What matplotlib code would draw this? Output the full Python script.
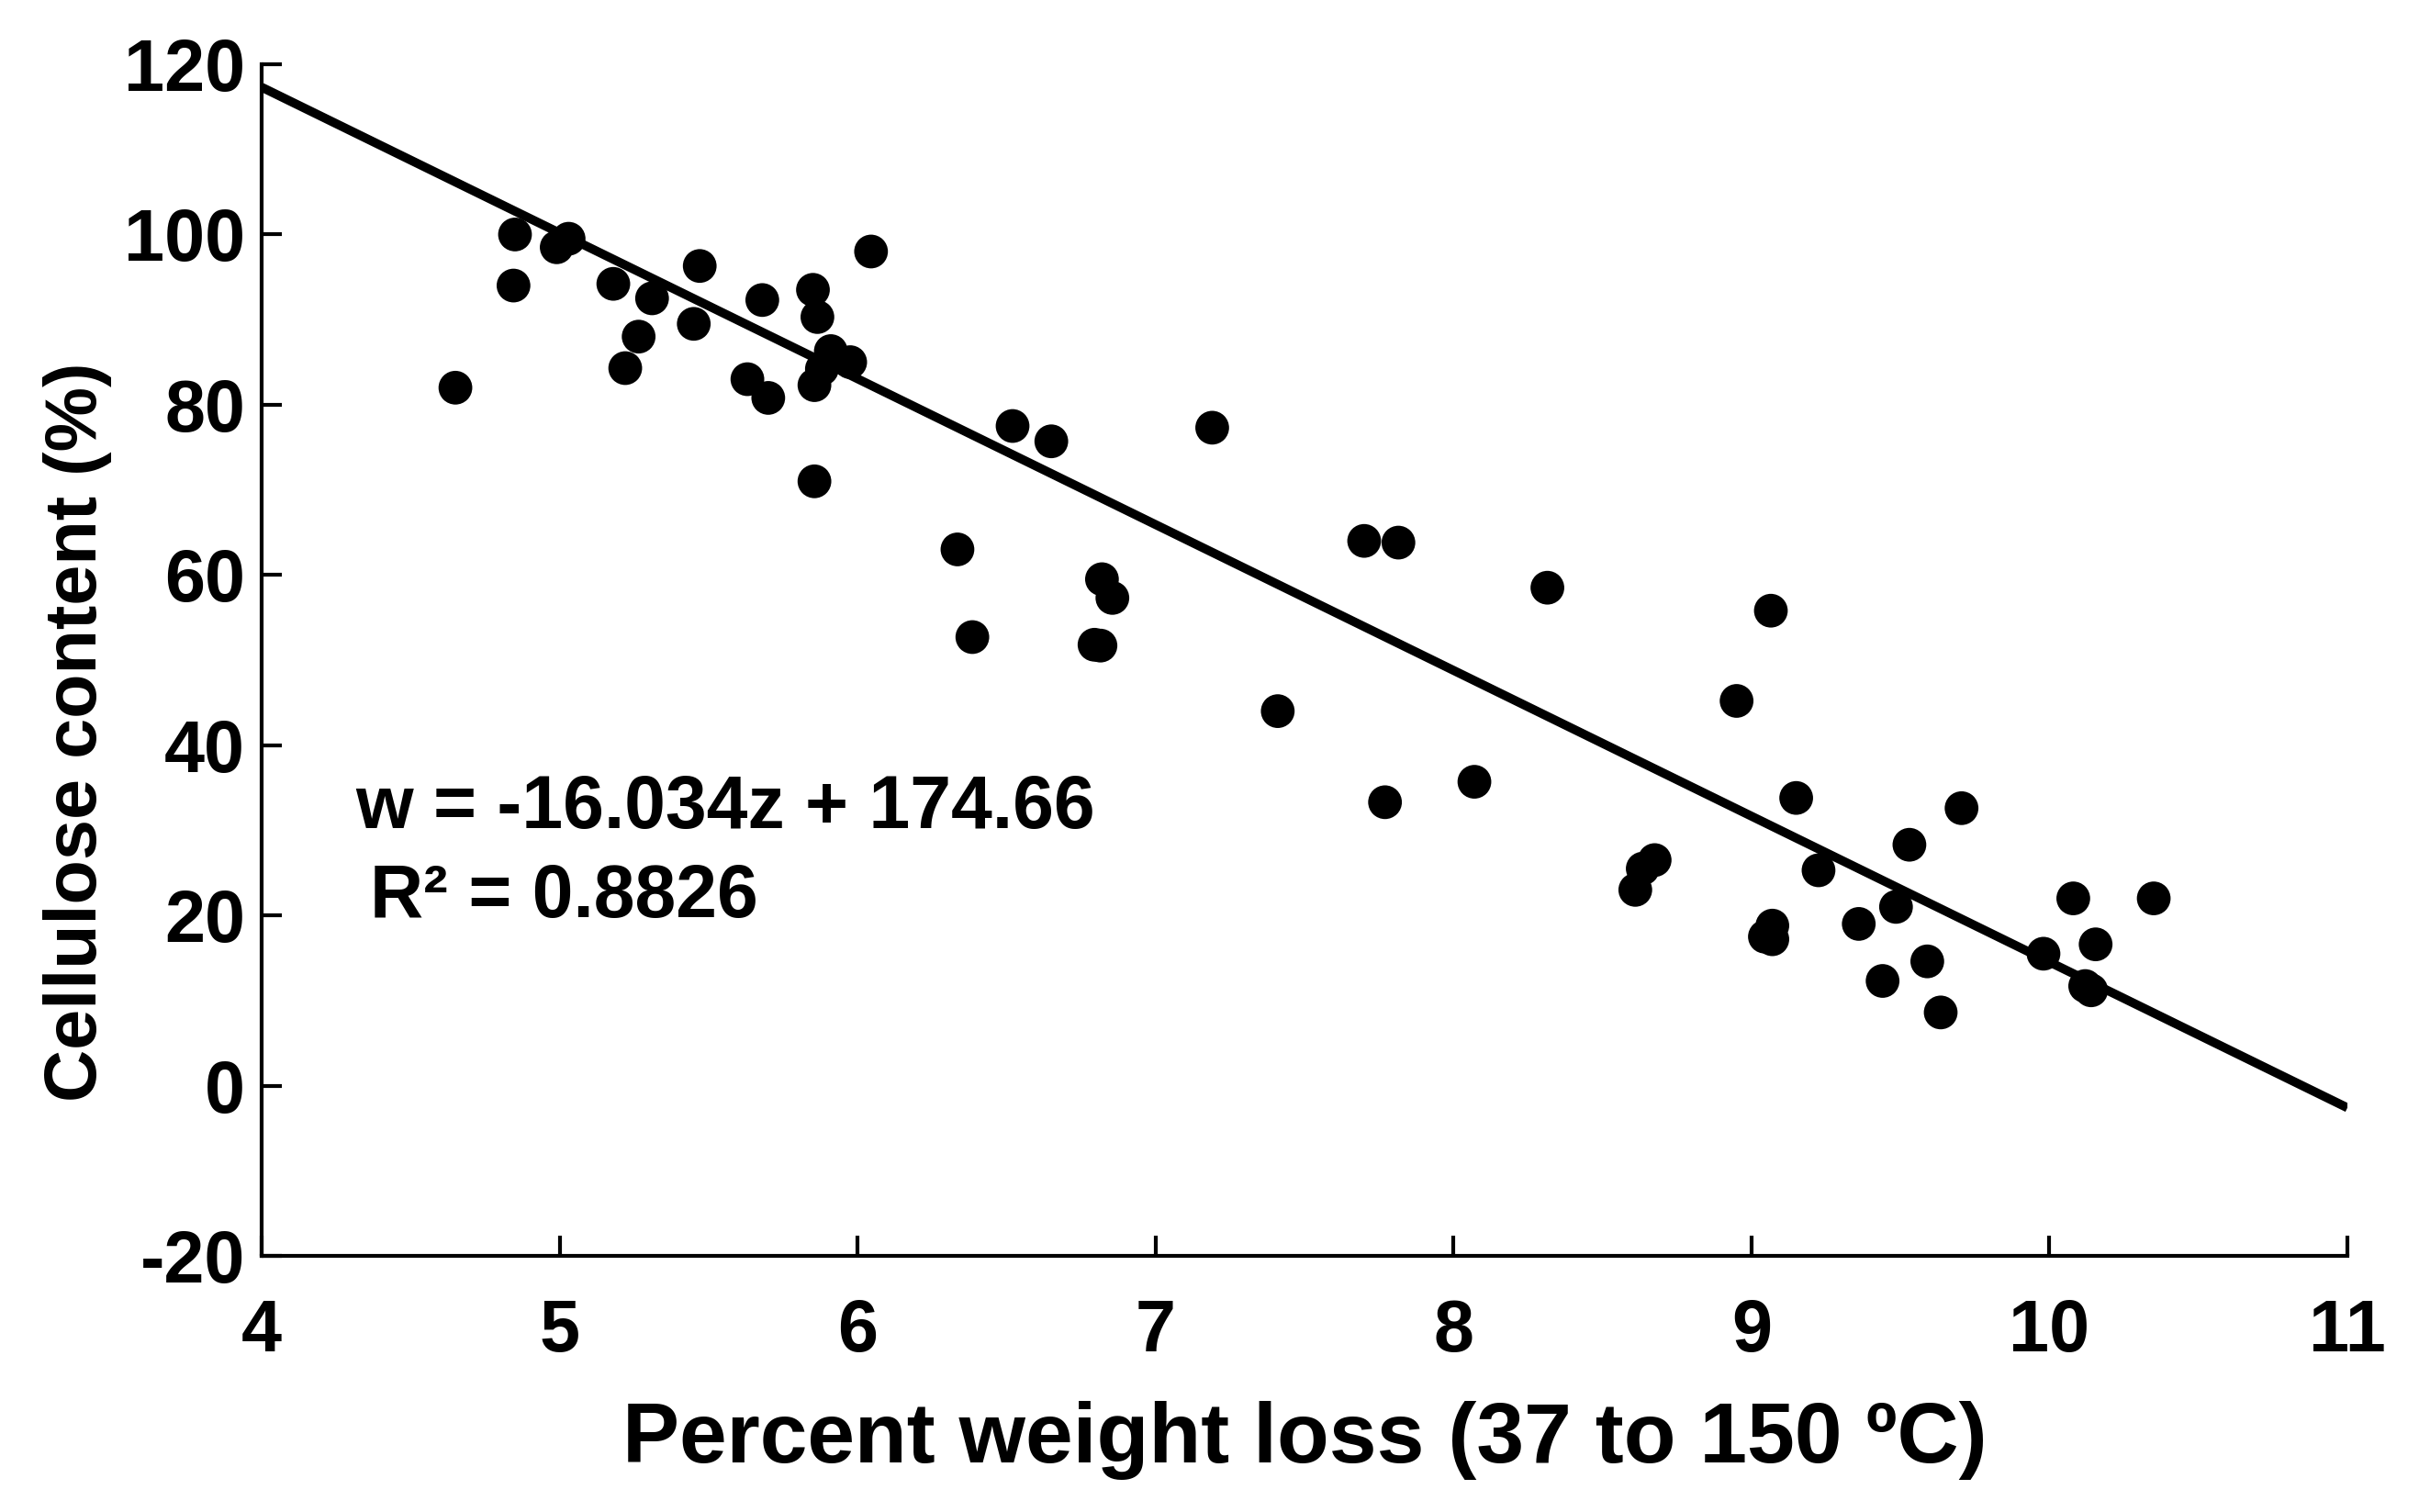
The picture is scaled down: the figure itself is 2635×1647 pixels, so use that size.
import matplotlib
matplotlib.use('Agg')
import matplotlib.pyplot as plt
import numpy as np

# weight loss (%) between 37 and 150 C
weight_loss = [4.65, 4.85, 4.845, 4.99, 5.03, 5.18, 5.22, 5.265, 5.31, 5.45,
               5.47, 5.63, 5.68, 5.70, 5.85, 5.865, 5.855, 5.88, 5.91, 5.975,
               5.855, 6.045, 6.335, 6.385, 6.52, 6.65, 6.82, 6.855, 6.795, 6.815,
               7.19, 7.41, 7.70, 7.815, 7.77, 8.07, 8.315, 8.61, 8.635, 8.675,
               8.95, 9.065, 9.045, 9.07, 9.07, 9.15, 9.225, 9.36, 9.44, 9.485,
               9.53, 9.59, 9.635, 9.705, 9.98, 10.08, 10.12, 10.14, 10.155, 10.35]
# cellulose content (%)
cellulose = [82.0, 100.0, 94.0, 98.5, 99.5, 94.2, 84.3, 88.0, 92.5, 89.5,
             96.3, 83.0, 92.3, 80.8, 93.5, 90.3, 82.3, 84.2, 86.3, 85.0,
             71.0, 98.0, 63.0, 52.7, 77.5, 75.7, 59.5, 57.3, 51.8, 51.7,
             77.3, 44.0, 64.0, 63.8, 33.3, 35.7, 58.5, 23.0, 25.5, 26.5,
             45.2, 55.8, 17.5, 18.8, 17.2, 33.8, 25.3, 19.0, 12.3, 21.0,
             28.3, 14.6, 8.6, 32.6, 15.5, 22.0, 11.7, 11.2, 16.6, 22.0]

# trend line as drawn in the figure
trend_x = [4.0, 11.0]
trend_y = [117.3, -2.6]

eq_text = 'w = -16.034z + 174.66'
r2_text = 'R\u00b2 = 0.8826'

plt.rcParams['font.family'] = ['Liberation Sans', 'DejaVu Sans']
plt.rcParams['font.weight'] = 'bold'
plt.rcParams['axes.unicode_minus'] = False

fig = plt.figure(figsize=(26.35, 16.47), dpi=100)
ax = fig.add_axes([0.1082, 0.1694, 0.8622, 0.7881])

ax.scatter(weight_loss, cellulose, s=700, color='black', edgecolors='none', zorder=3)
ax.plot(trend_x, trend_y, color='black', lw=7, zorder=2, solid_capstyle='butt')

ax.set_xlim(4, 11)
ax.set_ylim(-20, 120)
ax.set_xticks(np.arange(4, 12, 1))
ax.set_yticks(np.arange(-20, 121, 20))

for side in ['top', 'right']:
    ax.spines[side].set_visible(False)
for side in ['left', 'bottom']:
    ax.spines[side].set_linewidth(3.0)

ax.tick_params(axis='both', direction='in', length=15.5, width=3.0, labelsize=57)
ax.tick_params(axis='x', pad=33)
ax.tick_params(axis='y', pad=13)
for lab in ax.get_xticklabels() + ax.get_yticklabels():
    lab.set_fontweight('bold')

ax.set_xlabel('Percent weight loss (37 to 150 \u00baC)', fontsize=67, fontweight='bold', labelpad=27)
ax.set_ylabel('Cellulose content (%)', fontsize=57, fontweight='bold')
ax.yaxis.set_label_coords(-0.072, 0.44)

ax.text(4.314, 32.5, eq_text, fontsize=58, fontweight='bold', va='center', ha='left')
ax.text(4.363, 22.1, r2_text, fontsize=58, fontweight='bold', va='center', ha='left')

fig.savefig('out.png', dpi=100, facecolor='white')
